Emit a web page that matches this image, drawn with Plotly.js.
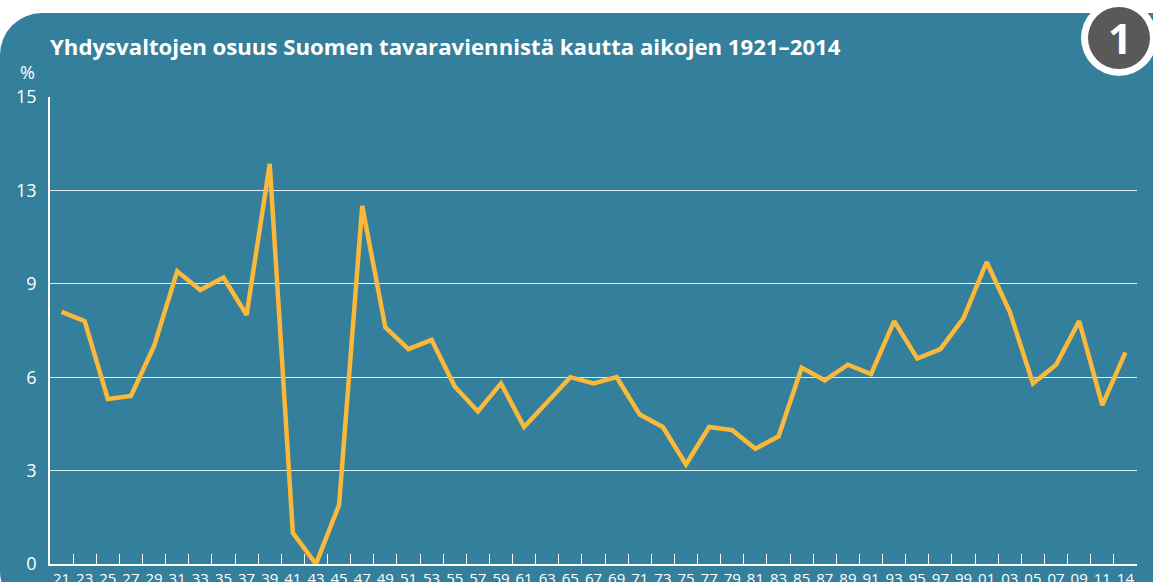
<!DOCTYPE html>
<html>
<head>
<meta charset="utf-8">
<script src="https://cdn.plot.ly/plotly-3.0.1.min.js"></script>
<style>
  html, body { margin: 0; padding: 0; background: #ffffff; overflow: hidden; }
  #wrap { position: relative; width: 1153px; height: 582px; }
  #panel { position: absolute; left: 0; top: 13px; width: 1153px; height: 600px;
           background: #347f9b; border-top-left-radius: 42px; border-bottom-left-radius: 42px; }
  #chart { position: absolute; left: 0; top: 0; width: 1153px; height: 582px; }
</style>
</head>
<body>
<div id="wrap">
  <div id="panel"></div>
  <div id="chart"></div>
</div>
<script>
// Data: share of USA in Finland's goods exports (%), 1921–2014
const yearLabels = ["21","23","25","27","29","31","33","35","37","39",
                    "41","43","45","47","49","51","53","55","57","59",
                    "61","63","65","67","69","71","73","75","77","79",
                    "81","83","85","87","89","91","93","95","97","99",
                    "01","03","05","07","09","11","14"];
const shareUSA = [8.1, 7.8, 5.3, 5.4, 7.0, 9.4, 8.8, 9.2, 8.0, 12.85,
                  1.0, 0.0, 1.9, 11.5, 7.6, 6.9, 7.2, 5.7, 4.9, 5.8,
                  4.4, 5.2, 6.0, 5.8, 6.0, 4.8, 4.4, 3.2, 4.4, 4.3,
                  3.7, 4.1, 6.3, 5.9, 6.4, 6.1, 7.8, 6.6, 6.9, 7.9,
                  9.7, 8.1, 5.8, 6.4, 7.8, 5.1, 6.8];
const yTickVals = [0, 3, 6, 9, 12, 15];
const yTickText = ["0", "3", "6", "9", "13", "15"];
const titleText = "Yhdysvaltojen osuus Suomen tavaraviennistä kautta aikojen 1921–2014";

const FONT = "Open Sans, Lato, sans-serif";

const trace = {
  type: "scatter",
  mode: "lines",
  x: yearLabels,
  y: shareUSA,
  line: { color: "#fbb93c", width: 4.5, shape: "linear" },
  hoverinfo: "x+y",
  cliponaxis: false
};

const layout = {
  width: 1153,
  height: 582,
  margin: { l: 50, r: 16, t: 97, b: 18 },
  paper_bgcolor: "rgba(0,0,0,0)",
  plot_bgcolor: "rgba(0,0,0,0)",
  showlegend: false,
  font: { family: FONT, color: "#ffffff" },
  title: {
    text: "<b>" + titleText + "</b>",
    font: { family: FONT, size: 22.2, color: "#ffffff" },
    x: 0, xref: "paper", xanchor: "left",
    y: 1 - 47 / 582, yref: "container", yanchor: "middle"
  },
  xaxis: {
    type: "category",
    tickmode: "array",
    tickvals: yearLabels,
    ticktext: yearLabels,
    tickson: "boundaries",
    ticks: "inside",
    ticklen: 10,
    tickwidth: 1,
    tickcolor: "#ffffff",
    showline: true,
    linecolor: "#ffffff",
    linewidth: 2,
    showgrid: false,
    zeroline: false,
    tickangle: 0,
    tickfont: { family: FONT, size: 15, color: "#ffffff" },
    range: [-0.5, yearLabels.length - 0.5],
    fixedrange: true
  },
  yaxis: {
    range: [0, 15],
    tickmode: "array",
    tickvals: yTickVals,
    ticktext: yTickText,
    ticks: "",
    showline: true,
    linecolor: "#ffffff",
    linewidth: 1.5,
    showgrid: true,
    gridcolor: "rgba(255,255,255,0.85)",
    gridwidth: 1.2,
    zeroline: false,
    tickfont: { family: FONT, size: 18, color: "#ffffff" },
    ticklabelstandoff: 8,
    fixedrange: true
  },
  shapes: [
    {
      type: "circle", xref: "paper", yref: "paper",
      xsizemode: "pixel", ysizemode: "pixel",
      xanchor: (1119 - 50) / (1153 - 66), yanchor: 1 + (97 - 38) / (582 - 115),
      x0: -38, x1: 38, y0: -38, y1: 38,
      fillcolor: "#ffffff", line: { width: 0 }, layer: "above"
    },
    {
      type: "circle", xref: "paper", yref: "paper",
      xsizemode: "pixel", ysizemode: "pixel",
      xanchor: (1119 - 50) / (1153 - 66), yanchor: 1 + (97 - 38) / (582 - 115),
      x0: -31, x1: 31, y0: -31, y1: 31,
      fillcolor: "#595959", line: { width: 0 }, layer: "above"
    }
  ],
  annotations: [
    {
      text: "<b>1</b>", xref: "paper", yref: "paper",
      x: (1120 - 50) / (1153 - 66), y: 1 + (97 - 38) / (582 - 115),
      xanchor: "center", yanchor: "middle", showarrow: false,
      font: { family: FONT, size: 42, color: "#ffffff" }
    },
    {
      text: "%", xref: "paper", yref: "paper",
      x: (27 - 50) / (1153 - 66), y: 1 + (97 - 72) / (582 - 115),
      xanchor: "center", yanchor: "middle", showarrow: false,
      font: { family: FONT, size: 18, color: "#ffffff" }
    }
  ]
};

Plotly.newPlot("chart", [trace], layout, { displayModeBar: false, staticPlot: false });
</script>
</body>
</html>
